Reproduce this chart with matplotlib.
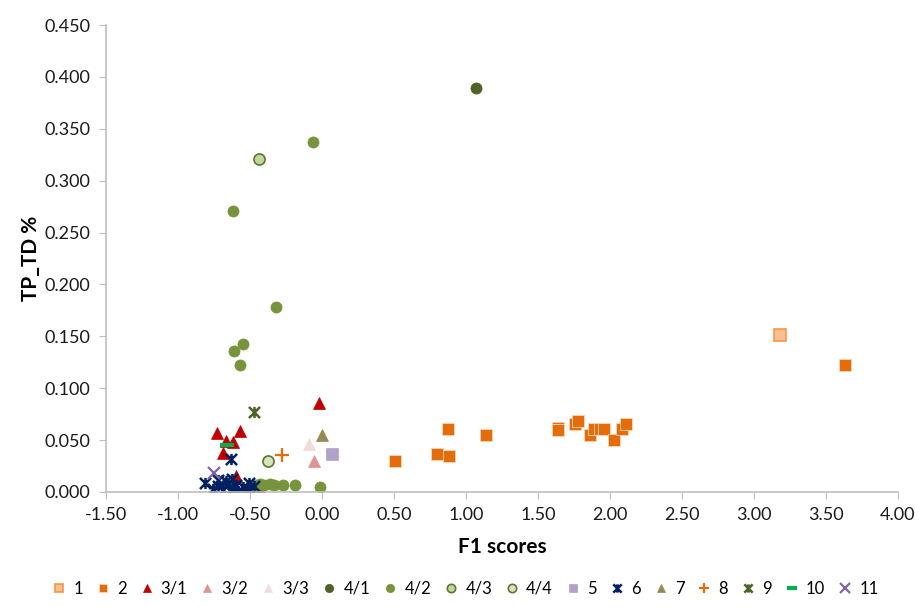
import matplotlib
matplotlib.use("Agg")
import matplotlib.pyplot as plt
from matplotlib.path import Path
from matplotlib.ticker import MultipleLocator, FormatStrFormatter

plt.rcParams["font.family"] = ["Lato", "DejaVu Sans"]

# ---- data ----
x1 = [3.18]
y1 = [0.151]

x2 = [3.63, 0.51, 0.80, 0.88, 0.875, 1.14, 1.64, 1.64, 1.76, 1.78, 1.86, 1.89, 1.93, 1.96, 2.025, 2.08, 2.11]
y2 = [0.122, 0.030, 0.037, 0.035, 0.061, 0.055, 0.062, 0.060, 0.066, 0.068, 0.055, 0.061, 0.061, 0.061, 0.050, 0.061, 0.066]

x31 = [-0.02, -0.73, -0.57, -0.67, -0.62, -0.69, -0.60, -0.45, -0.43, -0.62]
y31 = [0.086, 0.057, 0.059, 0.049, 0.048, 0.038, 0.015, 0.002, 0.003, 0.005]

x32 = [-0.056]
y32 = [0.030]

x33 = [-0.09]
y33 = [0.046]

x41 = [1.07]
y41 = [0.389]

x42 = [-0.065, -0.62, -0.32, -0.55, -0.61, -0.57, -0.015, -0.40, -0.33, -0.27, -0.19, -0.45, -0.43, -0.36]
y42 = [0.337, 0.271, 0.178, 0.143, 0.136, 0.122, 0.005, 0.007, 0.007, 0.007, 0.007, 0.007, 0.008, 0.008]

x43 = [-0.44]
y43 = [0.321]

x44 = [-0.375]
y44 = [0.030]

x5 = [0.07]
y5 = [0.037]

x6 = [-0.63, -0.81, -0.76, -0.72, -0.69, -0.65, -0.64, -0.60, -0.58, -0.55, -0.51, -0.50, -0.47,
      -0.625, -0.72, -0.62, -0.53, -0.67]
y6 = [0.032, 0.009, 0.003, 0.006, 0.002, 0.008, 0.002, 0.007, 0.001, 0.005, 0.009, 0.002, 0.006,
      0.013, 0.012, 0.004, 0.003, 0.011]

x7 = [0.003]
y7 = [0.055]

x8 = [-0.28]
y8 = [0.036]

x9 = [-0.47]
y9 = [0.077]

x10 = [-0.66]
y10 = [0.045]

x11 = [-0.75]
y11 = [0.018]

labels = ["1", "2", "3/1", "3/2", "3/3", "4/1", "4/2", "4/3", "4/4", "5",
          "6", "7", "8", "9", "10", "11"]

# Excel style "star": an X with a vertical bar through it
star = Path(
    [(-1, -1), (1, 1), (-1, 1), (1, -1), (0, -1), (0, 1)],
    [Path.MOVETO, Path.LINETO, Path.MOVETO, Path.LINETO, Path.MOVETO, Path.LINETO],
)

fig = plt.figure(figsize=(9.19, 6.07), dpi=100)
ax = fig.add_axes([106 / 919, 1 - 492 / 607, (898 - 106) / 919, (492 - 25) / 607])

ms = 8
ax.plot(x1, y1, ls="none", marker="s", ms=ms, mfc="#fac090", mec="#f79646", mew=1.2, label=labels[0])
ax.plot(x2, y2, ls="none", marker="s", ms=ms, mfc="#e46c0a", mec="#fbd5b5", mew=0.6, label=labels[1])
ax.plot(x31, y31, ls="none", marker="^", ms=ms, mfc="#c00000", mec="#c00000", mew=0.5, label=labels[2])
ax.plot(x32, y32, ls="none", marker="^", ms=ms, mfc="#da9694", mec="#da9694", mew=0.5, label=labels[3])
ax.plot(x33, y33, ls="none", marker="^", ms=ms, mfc="#f2dcdb", mec="#f2dcdb", mew=0.5, label=labels[4])
ax.plot(x41, y41, ls="none", marker="o", ms=ms, mfc="#4f6228", mec="#4f6228", mew=0.5, label=labels[5])
ax.plot(x42, y42, ls="none", marker="o", ms=ms, mfc="#77933c", mec="#77933c", mew=0.5, label=labels[6])
ax.plot(x43, y43, ls="none", marker="o", ms=ms, mfc="#c3d69b", mec="#5f7530", mew=1.2, label=labels[7])
ax.plot(x44, y44, ls="none", marker="o", ms=ms, mfc="#d7e4bd", mec="#5f7530", mew=1.2, label=labels[8])
ax.plot(x5, y5, ls="none", marker="s", ms=ms, mfc="#b3a2c7", mec="#b3a2c7", mew=0.5, label=labels[9])
ax.plot(x6, y6, ls="none", marker=star, ms=8, mec="#002060", mew=1.8, label=labels[10])
ax.plot(x7, y7, ls="none", marker="^", ms=ms, mfc="#948a54", mec="#948a54", mew=0.5, label=labels[11])
ax.plot(x8, y8, ls="none", marker="+", ms=10, mec="#e46c0a", mew=1.6, label=labels[12])
ax.plot(x9, y9, ls="none", marker=star, ms=8, mec="#4f6228", mew=1.8, label=labels[13])
ax.plot(x10, y10, ls="none", marker="_", ms=10, mec="#00b050", mew=3, label=labels[14])
ax.plot(x11, y11, ls="none", marker="x", ms=9, mec="#8064a2", mew=1.6, label=labels[15])

ax.set_xlim(-1.5, 4.0)
ax.set_ylim(0, 0.45)
ax.xaxis.set_major_locator(MultipleLocator(0.5))
ax.yaxis.set_major_locator(MultipleLocator(0.05))
ax.xaxis.set_major_formatter(FormatStrFormatter("%.2f"))
ax.yaxis.set_major_formatter(FormatStrFormatter("%.3f"))

for side in ("top", "right"):
    ax.spines[side].set_visible(False)
for side in ("left", "bottom"):
    ax.spines[side].set_color("#bfbfbf")
    ax.spines[side].set_linewidth(1.2)
ax.tick_params(axis="both", direction="out", length=5, color="#bfbfbf",
               labelsize=13, labelcolor="#1a1a1a", pad=6)

ax.set_xlabel("F1 scores", fontsize=15, fontweight="bold", labelpad=10)
ax.set_ylabel("TP_TD %", fontsize=15, fontweight="bold", labelpad=3)

fig.legend(loc="lower center", bbox_to_anchor=(0.507, -0.008), ncol=16, frameon=False,
           fontsize=12, handlelength=0.7, handletextpad=0.5, columnspacing=0.85,
           markerscale=0.75)

fig.savefig("out.png", dpi=100)
